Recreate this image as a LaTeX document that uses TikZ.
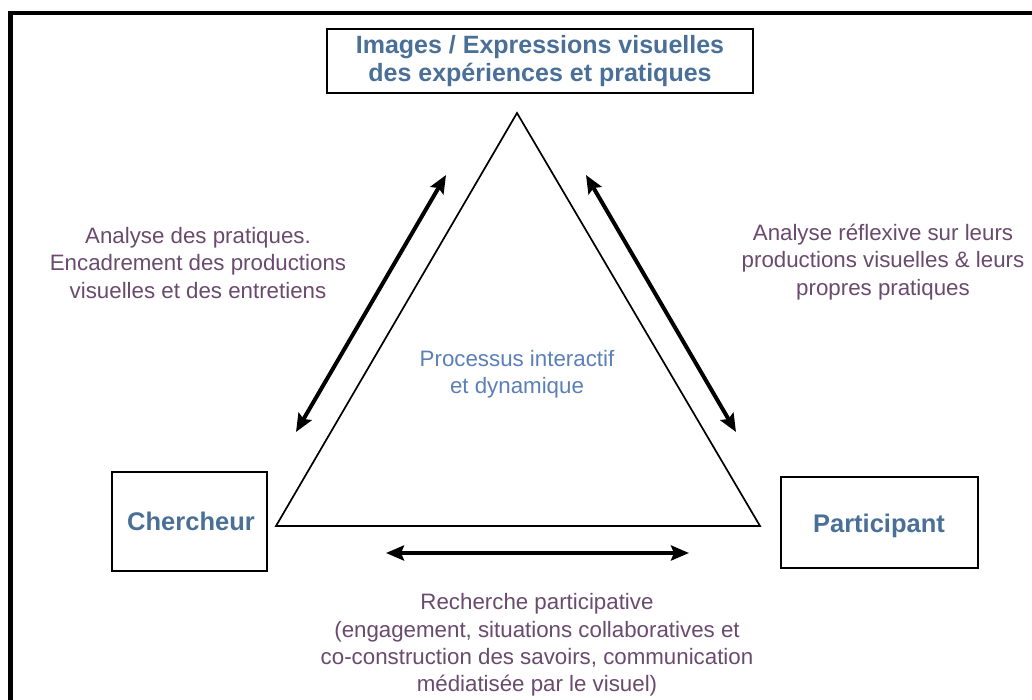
\documentclass[tikz,border=0pt]{standalone}
\usepackage{fontspec}
\setmainfont{Liberation Sans}
\usetikzlibrary{arrows.meta}
\definecolor{titleblue}{HTML}{4A7098}
\definecolor{procblue}{HTML}{5B7FB8}
\definecolor{plum}{HTML}{6A4A6E}
\tikzset{
  box/.style={draw=black, line width=2pt, inner sep=0pt},
  plumtext/.style={text=plum, align=center, font=\fontsize{22.3}{27.3}\selectfont},
  dbl/.style={line width=4pt, {Stealth[length=18pt,width=15pt,inset=3pt]}-{Stealth[length=18pt,width=15pt,inset=3pt]}},
  tri/.style={draw=black, line width=1.7pt, line join=miter},
}
\begin{document}
\begin{tikzpicture}[x=1pt,y=-1pt]
\useasboundingbox (0,0) rectangle (1032,700);
\fill[white] (0,0) rectangle (1032,700);
% frame
\draw[line width=4.5pt] (10.5,702) -- (10.5,13) -- (1034,13);
% boxes
\node[box, minimum width=426pt, minimum height=64pt] (top) at (540,61) {};
\node[text=titleblue, align=center, font=\bfseries\fontsize{25}{28}\selectfont] (toptext) at (540,61.5) {Images / Expressions visuelles\\des expériences et pratiques};
\node[box, minimum width=155pt, minimum height=99pt] (cher) at (189.5,521.5) {};
\node[text=titleblue, font=\bfseries\fontsize{25.5}{30}\selectfont] (chertext) at (191,521) {Chercheur};
\node[box, minimum width=197pt, minimum height=91pt] (part) at (879.5,522.5) {};
\node[text=titleblue, font=\bfseries\fontsize{25.5}{30}\selectfont] (parttext) at (879,526) {Participant};
% triangle
\coordinate (A) at (517,113);
\coordinate (B) at (276,526);
\coordinate (C) at (760,526);
\draw[tri] (A) -- (B) -- (C) -- cycle;
% arrows
\coordinate (l1) at (446,175);
\coordinate (l2) at (296,432);
\coordinate (r1) at (586,175);
\coordinate (r2) at (736,432);
\coordinate (b1) at (386,553);
\coordinate (b2) at (689,553);
\draw[dbl] (l1) -- (l2);
\draw[dbl] (r1) -- (r2);
\draw[dbl] (b1) -- (b2);
% texts
\node[plumtext] (lt) at (198,263) {Analyse des pratiques.\\Encadrement des productions\\visuelles et des entretiens};
\node[plumtext] (rt) at (883,262) {Analyse réflexive sur leurs\\productions visuelles \& leurs\\propres pratiques};
\node[text=procblue, align=center, font=\fontsize{22.3}{27.3}\selectfont] (proc) at (517,374) {Processus interactif\\et dynamique};
\node[plumtext] (bt) at (537,645) {Recherche participative\\(engagement, situations collaboratives et\\co-construction des savoirs, communication\\médiatisée par le visuel)};
\end{tikzpicture}
\end{document}
